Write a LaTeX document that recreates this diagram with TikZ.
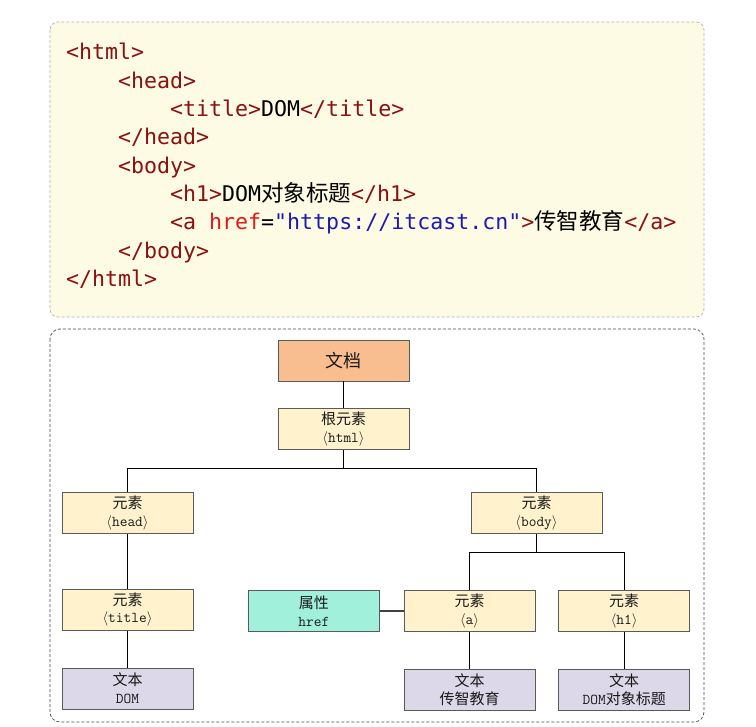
\documentclass[tikz,border=0pt]{standalone}
\usepackage{fontspec}
\newfontfamily\cjk{Noto Sans CJK SC}
\newfontfamily\codefont{DejaVu Sans Mono}
\usetikzlibrary{positioning}

\definecolor{tagred}{HTML}{8B1010}
\definecolor{attrred}{HTML}{E01A1A}
\definecolor{urlblue}{HTML}{1C1CB4}
\definecolor{codebg}{HTML}{FEFBE5}
\definecolor{docfill}{HTML}{F9BE8F}
\definecolor{elemfill}{HTML}{FFF2CC}
\definecolor{attrfill}{HTML}{A0F0DC}
\definecolor{leaffill}{HTML}{DCD8EA}
\definecolor{boxline}{HTML}{5A5A5A}

\newcommand{\tg}[1]{\textcolor{tagred}{#1}}
\newcommand{\zh}[1]{{\cjk #1}}
\newcommand{\zhcode}[1]{{\cjk\fontsize{22.5}{26}\selectfont #1}}
\newcommand{\ang}[1]{$\langle$#1$\rangle$}

\tikzset{
  % one line of the html source
  code line/.style = {
    anchor = base west,
    inner sep = 0,
    font = \codefont\fontsize{21.6}{26}\selectfont
  },
  tree node/.style = {
    draw = boxline,
    line width = 0.7pt,
    minimum width = 131pt,
    minimum height = 41pt,
    inner sep = 0,
    align = center,
    text = black!90,
    font = \ttfamily\fontsize{15}{17.5}\selectfont
  },
  % document node
  doc/.style = {
    tree node,
    fill = docfill,
    font = \cjk\fontsize{18}{20}\selectfont
  },
  % element nodes
  elem/.style = {
    tree node,
    fill = elemfill
  },
  % attribute node
  attr/.style = {
    tree node,
    fill = attrfill
  },
  % text nodes
  leaf/.style = {
    tree node,
    fill = leaffill
  },
  link/.style = {
    draw = black,
    line width = 0.9pt
  },
  attr link/.style = {
    draw = black!75,
    line width = 1.6pt
  },
  frame/.style = {
    dash pattern = on 3pt off 2pt,
    line width = 0.7pt
  },
  node distance = 27pt
}

\begin{document}
\begin{tikzpicture}[x=1pt, y=-1pt]
    \useasboundingbox (0,0) rectangle (756,727);
    \fill[white] (0,0) rectangle (756,727);

    % source code
    \draw[frame, draw = black!30, fill = codebg, rounded corners = 8pt] (50,22) rectangle (704,317);
    \node[code line] (l1) at (66,60) {\tg{<html>}};
    \node[code line] (l2) at (118,88.3) {\tg{<head>}};
    \node[code line] (l3) at (170,116.7) {\tg{<title>}DOM\tg{</title>}};
    \node[code line] (l4) at (118,145) {\tg{</head>}};
    \node[code line] (l5) at (118,173.3) {\tg{<body>}};
    \node[code line] (l6) at (170,201.7) {\tg{<h1>}DOM\zhcode{对象标题}\tg{</h1>}};
    \node[code line] (l7) at (170,230) {\tg{<a }\textcolor{attrred}{href}=\textcolor{urlblue}{"https://itcast.cn"}\tg{>}\zhcode{传智教育}\tg{</a>}};
    \node[code line] (l8) at (118,258.3) {\tg{</body>}};
    \node[code line] (l9) at (66,286.7) {\tg{</html>}};

    % dom tree
    \draw[frame, draw = black!70, rounded corners = 10pt] (50,329) rectangle (704,722);
    \node[doc] (doc) at (343.5,360.5) {文档};
    \node[elem] (html) [below=of doc] {\zh{根元素}\\\ang{html}};
    \node[elem] (head) at (127.5,513) {\zh{元素}\\\ang{head}};
    \node[elem] (body) at (536.5,513) {\zh{元素}\\\ang{body}};
    \node[elem] (title) [below=55pt of head] {\zh{元素}\\\ang{title}};
    \node[elem] (a) at (469.5,611) {\zh{元素}\\\ang{a}};
    \node[attr] (href) [left=24pt of a] {\zh{属性}\\href};
    \node[elem] (h1) [right=23pt of a] {\zh{元素}\\\ang{h1}};
    \node[leaf] (dom) [below=37pt of title] {\zh{文本}\\DOM};
    \node[leaf] (czjy) [below=37pt of a] {\zh{文本}\\\zh{传智教育}};
    \node[leaf] (domtitle) [below=37pt of h1] {\zh{文本}\\DOM\zh{对象标题}};

    \draw[link] (doc) -- (html);
    \draw[link] (html) -- ([yshift=-18pt]html.south);
    \draw[link] (head.north) |- ([yshift=-18pt]html.south) -| (body.north);
    \draw[link] (body) -- ([yshift=-19pt]body.south);
    \draw[link] (a.north) |- ([yshift=-19pt]body.south) -| (h1.north);
    \draw[link] (head) -- (title) -- (dom);
    \draw[link] (a) -- (czjy);
    \draw[link] (h1) -- (domtitle);
    \draw[attr link] (href) -- (a);
\end{tikzpicture}
\end{document}
